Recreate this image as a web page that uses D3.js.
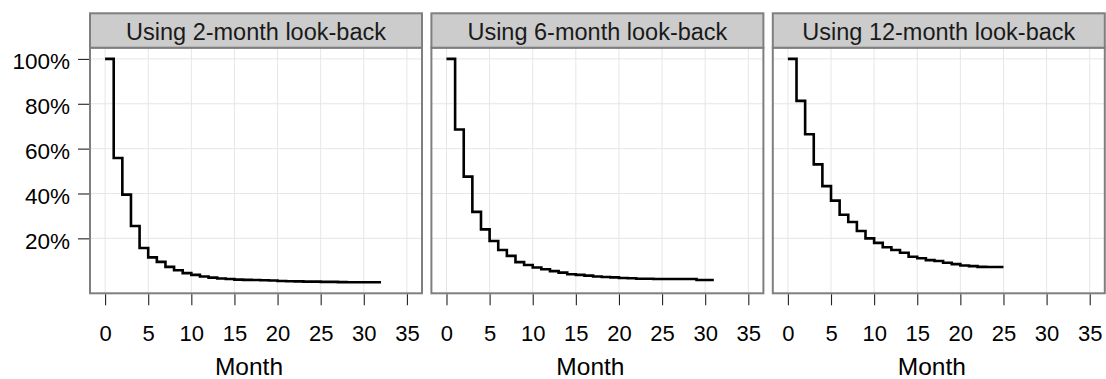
<!DOCTYPE html>
<html>
<head>
<meta charset="utf-8">
<script src="https://cdn.jsdelivr.net/npm/d3@7"></script>
<style>
  html, body { margin: 0; padding: 0; background: #ffffff; }
  svg { display: block; font-family: "Liberation Sans", Arial, Helvetica, sans-serif; }
</style>
</head>
<body>
<div id="chart"></div>
<script>
// ---- data (share remaining, by month since start) ----
const panelTitles = ["Using 2-month look-back", "Using 6-month look-back", "Using 12-month look-back"];
const survival2 = [1.00, 0.558, 0.395, 0.255, 0.157, 0.115, 0.095, 0.073, 0.058, 0.045,
                   0.037, 0.030, 0.025, 0.021, 0.019, 0.016, 0.015, 0.014, 0.013, 0.012,
                   0.010, 0.009, 0.008, 0.007, 0.007, 0.006, 0.006, 0.005, 0.004, 0.004,
                   0.004, 0.004, 0.004];
const survival6 = [1.00, 0.685, 0.475, 0.318, 0.240, 0.188, 0.148, 0.122, 0.094, 0.081,
                   0.070, 0.062, 0.054, 0.047, 0.040, 0.037, 0.034, 0.030, 0.028, 0.026,
                   0.023, 0.022, 0.020, 0.020, 0.019, 0.019, 0.019, 0.019, 0.019, 0.014,
                   0.014, 0.014];
const survival12 = [1.00, 0.813, 0.664, 0.530, 0.433, 0.368, 0.305, 0.273, 0.233, 0.200,
                    0.180, 0.160, 0.148, 0.136, 0.118, 0.111, 0.103, 0.099, 0.091, 0.085,
                    0.079, 0.076, 0.073, 0.072, 0.072, 0.072];
const xTicks = [0, 5, 10, 15, 20, 25, 30, 35];
const yTicks = [0.2, 0.4, 0.6, 0.8, 1.0];
const yTickLabels = ["20%", "40%", "60%", "80%", "100%"];
const xLabel = "Month";

const seriesList = [survival2, survival6, survival12];

// ---- layout ----
const W = 1106, H = 379;
const panelW = 332, panelStep = 341.4, panelX0 = 90;
const stripTop = 13.3, panelTop = 47.7, panelBottom = 293.3;

const svg = d3.select("#chart").append("svg")
  .attr("width", W).attr("height", H);

const y = d3.scaleLinear().domain([-0.045, 1.05]).range([panelBottom, panelTop]);

seriesList.forEach((vals, i) => {
  const left = panelX0 + i * panelStep;
  const x = d3.scaleLinear().domain([-1.75, 36.75]).range([left, left + panelW]);
  const g = svg.append("g");

  // background
  g.append("rect").attr("x", left).attr("y", panelTop)
    .attr("width", panelW).attr("height", panelBottom - panelTop).attr("fill", "#ffffff");

  // grid
  g.selectAll(".vg").data(xTicks).enter().append("line")
    .attr("x1", d => x(d)).attr("x2", d => x(d))
    .attr("y1", panelTop).attr("y2", panelBottom)
    .attr("stroke", "#e6e6e6").attr("stroke-width", 1);
  g.selectAll(".hg").data(yTicks).enter().append("line")
    .attr("x1", left).attr("x2", left + panelW)
    .attr("y1", d => y(d)).attr("y2", d => y(d))
    .attr("stroke", "#e6e6e6").attr("stroke-width", 1);

  // step line
  const line = d3.line()
    .x((d, k) => x(k))
    .y(d => y(d))
    .curve(d3.curveStepAfter);
  g.append("path").datum(vals)
    .attr("d", line)
    .attr("fill", "none")
    .attr("stroke", "#000000")
    .attr("stroke-width", 2.6)
    .attr("stroke-linejoin", "miter")
    .attr("stroke-linecap", "butt");

  // panel border
  g.append("rect").attr("x", left).attr("y", panelTop)
    .attr("width", panelW).attr("height", panelBottom - panelTop)
    .attr("fill", "none").attr("stroke", "#7f7f7f").attr("stroke-width", 2);

  // strip
  g.append("rect").attr("x", left).attr("y", stripTop)
    .attr("width", panelW).attr("height", panelTop - stripTop)
    .attr("fill", "#cccccc").attr("stroke", "#7f7f7f").attr("stroke-width", 2);
  g.append("text")
    .attr("x", left + panelW / 2).attr("y", 39.6)
    .attr("text-anchor", "middle")
    .attr("font-size", "23.5px")
    .attr("fill", "#1a1a1a")
    .text(panelTitles[i]);

  // x axis
  const xa = svg.append("g")
    .attr("transform", `translate(0,${panelBottom + 1})`)
    .call(d3.axisBottom(x).tickValues(xTicks).tickSize(11).tickPadding(20).tickFormat(d3.format("d")));
  xa.select(".domain").remove();
  xa.selectAll(".tick line").attr("stroke", "#222222").attr("stroke-width", 1.1);
  xa.selectAll(".tick text").attr("font-size", "22px").attr("fill", "#000000")
    .attr("font-family", "'Liberation Sans', Arial, sans-serif");

  // x label
  svg.append("text")
    .attr("x", left + panelW / 2 - 7).attr("y", 374.5)
    .attr("text-anchor", "middle")
    .attr("font-size", "24.5px")
    .attr("fill", "#000000")
    .text(xLabel);

  // y axis on first panel only
  if (i === 0) {
    const ya = svg.append("g")
      .attr("transform", `translate(${left - 1},0)`)
      .call(d3.axisLeft(y).tickValues(yTicks).tickSize(11).tickPadding(8)
        .tickFormat((d, k) => yTickLabels[k]));
    ya.select(".domain").remove();
    ya.selectAll(".tick line").attr("stroke", "#222222").attr("stroke-width", 1.1);
    ya.selectAll(".tick text").attr("font-size", "22.5px").attr("fill", "#000000")
      .attr("dy", "0.43em")
      .attr("font-family", "'Liberation Sans', Arial, sans-serif");
  }
});
</script>
</body>
</html>
